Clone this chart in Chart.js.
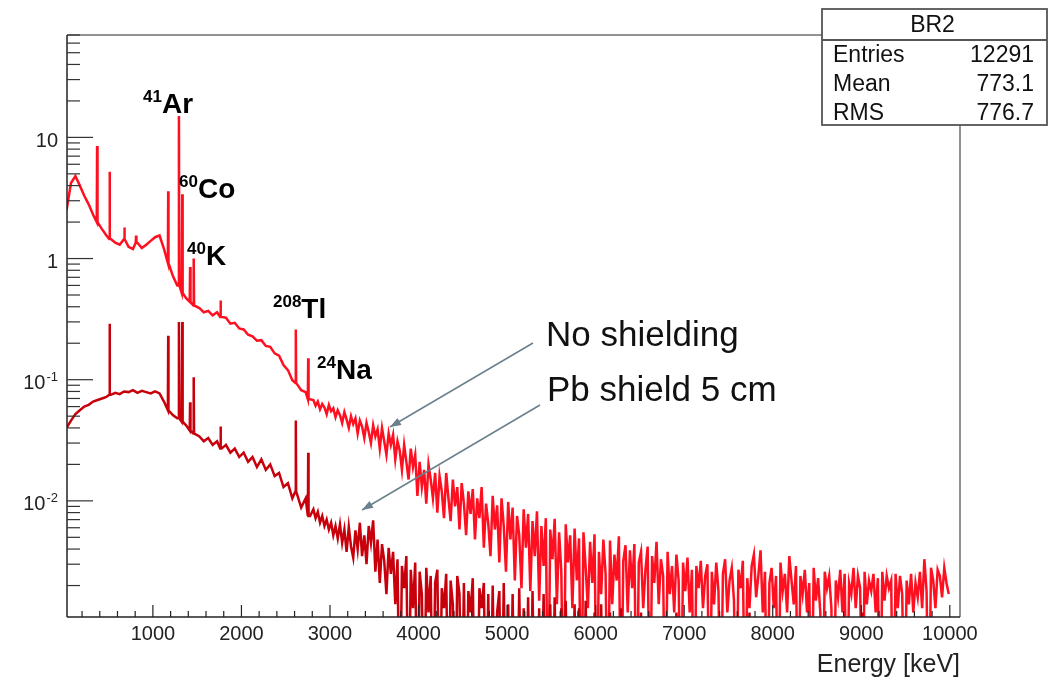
<!DOCTYPE html>
<html>
<head>
<meta charset="utf-8">
<script src="https://cdn.jsdelivr.net/npm/chart.js@4/dist/chart.umd.min.js"></script>
<style>
  html, body { margin: 0; padding: 0; background: #fff; }
  #wrap { width: 1055px; height: 679px; position: relative; }
</style>
</head>
<body>
<div id="wrap"><canvas id="spectrum"></canvas></div>
<script>
// two binnings: 50 keV bins from 0 to 2800 keV, 25 keV bins from 2800 to 10000 keV
const lowBinWidth = 50
const highBinWidth = 25
const splitEnergy = 2800

// No shielding, 0-2800 keV (50 keV bins)
const noShieldLow = [
  2.5, 4.2, 4.8, 4.0, 3.3, 2.8, 2.3, 2.0, 1.75, 1.55,
  1.45, 1.35, 1.3, 1.45, 1.25, 1.2, 1.35, 1.22, 1.3, 1.4,
  1.5, 1.55, 1.2, 0.92, 0.72, 0.6, 0.52, 0.47, 0.44, 0.41,
  0.39, 0.36, 0.37, 0.34, 0.36, 0.33, 0.325, 0.29, 0.295, 0.265,
  0.26, 0.235, 0.228, 0.21, 0.212, 0.19, 0.187, 0.165, 0.158, 0.132,
  0.12, 0.099, 0.094, 0.082, 0.079, 0.069
]
// No shielding, 2800-10000 keV (25 keV bins)
const noShieldHigh = [
  0.068, 0.061, 0.066, 0.057, 0.063, 0.059, 0.052, 0.062, 0.055, 0.058, 0.049, 0.056,
  0.051, 0.044, 0.054, 0.047, 0.040, 0.050, 0.043, 0.048, 0.036, 0.046, 0.041, 0.033,
  0.044, 0.037, 0.030, 0.042, 0.034, 0.039, 0.027, 0.040, 0.031, 0.024, 0.036, 0.029,
  0.035, 0.022, 0.031, 0.026, 0.018, 0.029, 0.021, 0.015, 0.027, 0.019, 0.024, 0.011,
  0.021, 0.013, 0.018, 0.0095, 0.020, 0.015, 0.0105, 0.017, 0.008, 0.016, 0.012, 0.0072,
  0.017, 0.0105, 0.0068, 0.015, 0.009, 0.013, 0.0058, 0.014, 0.0095, 0.0052, 0.012, 0.0078,
  0.0125, 0.0048, 0.0105, 0.0072, 0.013, 0.0041, 0.0095, 0.0065, 0.0035, 0.011, 0.0058, 0.0092,
  0.0031, 0.0105, 0.0062, 0.0026, 0.0098, 0.0048, 0.0088, 0.0022, 0.0075, 0.0052, 0.0019, 0.0085,
  0.0041, 0.0078, 0.0018, 0.0068, 0.0035, 0.0082, 0.0015, 0.0062, 0.0029, 0.0072, 0, 0.0058,
  0.0033, 0.0071, 0.0014, 0.0055, 0.0026, 0, 0.0064, 0.0031, 0.0052, 0.0013, 0.0059, 0.0022,
  0.0049, 0, 0.0055, 0.0028, 0.0013, 0.0046, 0.0021, 0.0053, 0, 0.0038, 0.0017, 0.0048,
  0.0025, 0, 0.0047, 0.0014, 0.0036, 0.0022, 0.0051, 0, 0.0032, 0.0043, 0.0012, 0.0039,
  0.0019, 0.0044, 0, 0.0031, 0.0038, 0.0013, 0.0027, 0.0042, 0, 0.0035, 0.0021, 0.0046,
  0.0014, 0.0033, 0.0024, 0, 0.0038, 0.0017, 0.0029, 0.0012, 0.0036, 0.0022, 0, 0.0031,
  0.0018, 0.0034, 0.0012, 0.0027, 0, 0.0029, 0.0019, 0.0032, 0.0013, 0.0024, 0.0030, 0,
  0.0026, 0.0014, 0.0031, 0.0018, 0, 0.0025, 0.0033, 0.0012, 0.0022, 0.0028, 0.0015, 0,
  0.0027, 0.0019, 0.0032, 0, 0.0023, 0.0013, 0.0029, 0.0036, 0.0016, 0.0024, 0.0039, 0.0012,
  0.0026, 0, 0.0021, 0.0028, 0.0013, 0.0024, 0, 0.0031, 0.0018, 0.0025, 0.0012, 0.0035,
  0.0022, 0.0014, 0.0029, 0, 0.0024, 0.0017, 0.0027, 0.0012, 0.0021, 0, 0.0028, 0.0015,
  0.0023, 0.0012, 0, 0.0026, 0.0019, 0.0024, 0.0013, 0, 0.0022, 0.0016, 0.0027, 0.0012,
  0.0025, 0, 0.0021, 0.0017, 0.0028, 0.0013, 0.0024, 0.0019, 0, 0.0026, 0.0014, 0.0022,
  0.0018, 0.0025, 0.0012, 0.0023, 0, 0.0026, 0.0015, 0.0024, 0.0019, 0.0022, 0, 0.0025,
  0.0013, 0.0024, 0.0017, 0, 0.0022, 0.0014, 0.0025, 0.0012, 0.0021, 0.0016, 0.0026, 0.0013,
  0.0033, 0.0018, 0, 0.0028, 0.0022, 0.0013, 0.0027, 0.0024, 0.0016, 0.0028, 0.0021, 0.0017
]

// Pb shield 5 cm, 0-2800 keV (50 keV bins)
const pbShieldLow = [
  0.040, 0.046, 0.052, 0.056, 0.060, 0.062, 0.066, 0.068, 0.070, 0.072,
  0.075, 0.078, 0.076, 0.080, 0.079, 0.082, 0.078, 0.081, 0.079, 0.077,
  0.080, 0.077, 0.066, 0.056, 0.051, 0.048, 0.045, 0.042, 0.038, 0.036,
  0.034, 0.031, 0.033, 0.029, 0.031, 0.027, 0.029, 0.025, 0.027, 0.023,
  0.025, 0.021, 0.023, 0.019, 0.022, 0.018, 0.020, 0.016, 0.017, 0.013,
  0.014, 0.0105, 0.012, 0.0088, 0.0105, 0.0075
]
// Pb shield 5 cm, 2800-10000 keV (25 keV bins)
const pbShieldHigh = [
  0.0085, 0.0072, 0.0081, 0.0066, 0.0075, 0.0062, 0.0070, 0.0058, 0.0066, 0.0052, 0.0062, 0.0049,
  0.0064, 0.0045, 0.0058, 0.0038, 0.0061, 0.0042, 0.0034, 0.0057, 0.0040, 0.0066, 0.0035, 0.0052,
  0.0030, 0.0062, 0.0045, 0.0069, 0.0026, 0.0048, 0.0021, 0.0044, 0.0032, 0.0017, 0.0041, 0.0025,
  0.0038, 0.0014, 0.0033, 0, 0.0029, 0.0019, 0.0035, 0, 0.0027, 0.0013, 0.0031, 0,
  0.0026, 0.0017, 0, 0.0028, 0.0012, 0.0024, 0, 0.0021, 0.0027, 0, 0.0019, 0.0013,
  0.0025, 0, 0.0022, 0.0014, 0, 0.0024, 0.0017, 0, 0.0021, 0, 0.0018, 0.0012,
  0.0023, 0, 0, 0.0019, 0.0013, 0.0021, 0, 0.0017, 0, 0.0020, 0, 0.0012,
  0.0018, 0, 0.0021, 0, 0.0014, 0, 0.0017, 0, 0, 0.0019, 0, 0.0013,
  0, 0.0016, 0, 0.0018, 0, 0, 0.0013, 0, 0.0017, 0, 0, 0.0014,
  0, 0.0016, 0, 0, 0.0013, 0, 0.0015, 0, 0, 0, 0.0014, 0,
  0.0013, 0, 0, 0.0015, 0, 0, 0, 0.0012, 0, 0, 0.0014, 0,
  0, 0, 0.0012, 0, 0, 0, 0, 0.0013, 0, 0, 0, 0,
  0, 0, 0, 0, 0.0012, 0, 0, 0, 0, 0, 0, 0,
  0, 0, 0, 0, 0, 0, 0, 0, 0.0012, 0, 0, 0,
  0, 0, 0, 0, 0, 0, 0, 0, 0, 0, 0, 0,
  0, 0, 0, 0, 0, 0, 0, 0, 0, 0, 0, 0,
  0, 0, 0, 0, 0, 0.0012, 0, 0, 0, 0, 0, 0,
  0, 0, 0, 0, 0, 0, 0, 0, 0, 0, 0, 0,
  0, 0, 0, 0, 0, 0, 0, 0, 0, 0, 0, 0,
  0, 0, 0, 0, 0, 0, 0, 0, 0, 0, 0, 0,
  0, 0, 0, 0, 0, 0, 0, 0, 0.0012, 0, 0, 0,
  0, 0, 0, 0, 0, 0, 0, 0, 0, 0, 0, 0,
  0, 0, 0, 0, 0, 0, 0, 0, 0, 0, 0, 0,
  0, 0, 0, 0, 0, 0, 0, 0, 0, 0, 0, 0
]

// gamma lines (keV) and peak heights on top of the continuum
const peakEnergies = [370, 511, 680, 810, 1173, 1294, 1332, 1420, 1461, 1764, 2614, 2754]
const noShieldPeaks = [8.5, 5.2, 1.8, 1.55, 3.6, 15, 3.4, 0.85, 1.0, 0.45, 0.26, 0.15]
const pbShieldPeaks = [null, 0.29, null, null, 0.23, 0.30, 0.30, 0.065, 0.105, 0.041, 0.046, 0.025]

const xMin = 30
const xMax = 10115
const yMin = 0.0011
const yMax = 70
const xTickLabels = [1000, 2000, 3000, 4000, 5000, 6000, 7000, 8000, 9000, 10000]
const yTickValues = [10, 1, 0.1, 0.01]
const yTickLabels = ['10', '1', '10^-1', '10^-2']

const statsTitle = 'BR2'
const statsNames = ['Entries', 'Mean', 'RMS']
const statsValues = ['12291', '773.1', '776.7']

const FONT = '"Liberation Sans", Arial, Helvetica, sans-serif'

// bin centres as points (empty bins sit below the axis and get clipped);
// each gamma line becomes a narrow spike standing on its bin
function buildSeries(low, high, peaks) {
  const floor = v => (v > 0 ? v : yMin / 10)
  const pts = []
  low.forEach((v, i) => pts.push({ x: lowBinWidth * i + lowBinWidth / 2, y: floor(v) }))
  high.forEach((v, i) => pts.push({ x: splitEnergy + highBinWidth * i + highBinWidth / 2, y: floor(v) }))
  peakEnergies.forEach((e, k) => {
    if (peaks[k] == null) return
    const base = floor(low[Math.floor(e / lowBinWidth)])
    pts.push({ x: e - 4, y: base }, { x: e, y: peaks[k] }, { x: e + 4, y: base })
  })
  pts.sort((a, b) => a.x - b.x)
  return pts
}

function line(ctx, x1, y1, x2, y2) {
  ctx.beginPath()
  ctx.moveTo(x1, y1)
  ctx.lineTo(x2, y2)
  ctx.stroke()
}

function arrow(ctx, x1, y1, x2, y2) {
  const ang = Math.atan2(y2 - y1, x2 - x1)
  line(ctx, x1, y1, x2, y2)
  ctx.beginPath()
  ctx.moveTo(x2, y2)
  ctx.lineTo(x2 - 11 * Math.cos(ang) + 4 * Math.sin(ang), y2 - 11 * Math.sin(ang) - 4 * Math.cos(ang))
  ctx.lineTo(x2 - 11 * Math.cos(ang) - 4 * Math.sin(ang), y2 - 11 * Math.sin(ang) + 4 * Math.cos(ang))
  ctx.closePath()
  ctx.fill()
}

// isotope tag: small bold mass number + bold element name
function isotope(ctx, mass, name, x, baseline) {
  ctx.fillStyle = '#000'
  ctx.textAlign = 'left'
  ctx.textBaseline = 'alphabetic'
  ctx.font = 'bold 17px ' + FONT
  ctx.fillText(mass, x, baseline - 11)
  const w = ctx.measureText(mass).width
  ctx.font = 'bold 28px ' + FONT
  ctx.fillText(name, x + w, baseline)
}

const rootFrame = {
  id: 'rootFrame',
  afterDraw(chart) {
    const { ctx, chartArea: a, scales: { x, y } } = chart
    ctx.save()

    // frame
    ctx.lineWidth = 1.5
    ctx.strokeStyle = '#6e6e6e'
    line(ctx, a.left, a.top, a.right, a.top)
    line(ctx, a.right, a.top, a.right, a.bottom)
    ctx.strokeStyle = '#222'
    line(ctx, a.left, a.top, a.left, a.bottom)
    line(ctx, a.left, a.bottom, a.right, a.bottom)

    // x ticks (inward)
    ctx.lineWidth = 1.2
    for (let e = 200; e <= 10000; e += 200) {
      const px = x.getPixelForValue(e)
      line(ctx, px, a.bottom, px, a.bottom - (e % 1000 === 0 ? 12 : 6))
    }
    // y ticks (inward, log)
    ctx.strokeStyle = '#333'
    for (let d = 0.001; d < 100; d *= 10) {
      for (let m = 1; m <= 9; m++) {
        const v = m * d
        if (v < yMin || v > yMax) continue
        const py = y.getPixelForValue(v)
        line(ctx, a.left, py, a.left + (m === 1 ? 26 : 13), py)
      }
    }

    // x labels
    ctx.fillStyle = '#222'
    ctx.font = '20px ' + FONT
    ctx.textAlign = 'center'
    ctx.textBaseline = 'middle'
    xTickLabels.forEach(v => ctx.fillText(String(v), x.getPixelForValue(v), a.bottom + 17))
    ctx.font = '25px ' + FONT
    ctx.textAlign = 'right'
    ctx.fillText('Energy [keV]', a.right, a.bottom + 48)

    // y labels with superscript exponent
    yTickValues.forEach((v, i) => {
      const py = y.getPixelForValue(v) + 4
      const [base, exp] = yTickLabels[i].split('^')
      const right = a.left - 9
      ctx.textAlign = 'right'
      ctx.textBaseline = 'middle'
      let supW = 0
      if (exp) {
        ctx.font = '13px ' + FONT
        supW = ctx.measureText(exp).width + 1
        ctx.textAlign = 'left'
        ctx.fillText(exp, right - supW + 1, py - 6)
        ctx.textAlign = 'right'
      }
      ctx.font = '20px ' + FONT
      ctx.fillText(base, right - supW, py)
    })

    // isotope labels
    isotope(ctx, '41', 'Ar', 143, 113)
    isotope(ctx, '60', 'Co', 179, 198)
    isotope(ctx, '40', 'K', 187, 265)
    isotope(ctx, '208', 'Tl', 273, 318)
    isotope(ctx, '24', 'Na', 317, 379)

    // series captions and arrows
    ctx.fillStyle = '#111'
    ctx.font = '35px ' + FONT
    ctx.textAlign = 'left'
    ctx.textBaseline = 'alphabetic'
    ctx.fillText('No shielding', 546, 346)
    ctx.fillText('Pb shield 5 cm', 547, 401)
    ctx.strokeStyle = '#6a808c'
    ctx.fillStyle = '#6a808c'
    ctx.lineWidth = 1.5
    arrow(ctx, 533, 343, 390, 427)
    arrow(ctx, 540, 405, 362, 510)

    // stats box
    const bx = 822, by = 9, bw = 225, bh = 116
    ctx.fillStyle = '#fff'
    ctx.fillRect(bx, by, bw, bh)
    ctx.strokeStyle = '#555'
    ctx.lineWidth = 1.8
    ctx.strokeRect(bx, by, bw, bh)
    line(ctx, bx, by + 31, bx + bw, by + 31)
    ctx.fillStyle = '#111'
    ctx.font = '23px ' + FONT
    ctx.textBaseline = 'middle'
    ctx.textAlign = 'center'
    ctx.fillText(statsTitle, bx + bw / 2 - 2, by + 17)
    statsNames.forEach((n, i) => {
      const ty = by + 47 + i * 29
      ctx.textAlign = 'left'
      ctx.fillText(n, bx + 11, ty)
      ctx.textAlign = 'right'
      ctx.fillText(statsValues[i], bx + bw - 13, ty)
    })
    ctx.restore()
  }
}

const config = {
  type: 'line',
  data: {
    datasets: [
      {
        label: 'Pb shield 5 cm',
        data: buildSeries(pbShieldLow, pbShieldHigh, pbShieldPeaks),
        borderColor: 'rgb(200, 0, 12)',
        borderWidth: 2.5,
        pointRadius: 0,
        tension: 0,
        clip: 0
      },
      {
        label: 'No shielding',
        data: buildSeries(noShieldLow, noShieldHigh, noShieldPeaks),
        borderColor: 'rgb(255, 16, 32)',
        borderWidth: 2.5,
        pointRadius: 0,
        tension: 0,
        clip: 0
      }
    ]
  },
  options: {
    responsive: true,
    maintainAspectRatio: false,
    animation: false,
    layout: { padding: { left: 67, top: 35, right: 95, bottom: 62 } },
    plugins: { legend: { display: false }, tooltip: { enabled: false } },
    scales: {
      x: { type: 'linear', min: xMin, max: xMax, display: false },
      y: { type: 'logarithmic', min: yMin, max: yMax, display: false }
    }
  },
  plugins: [rootFrame]
}

new Chart(document.getElementById('spectrum'), config)
</script>
</body>
</html>
